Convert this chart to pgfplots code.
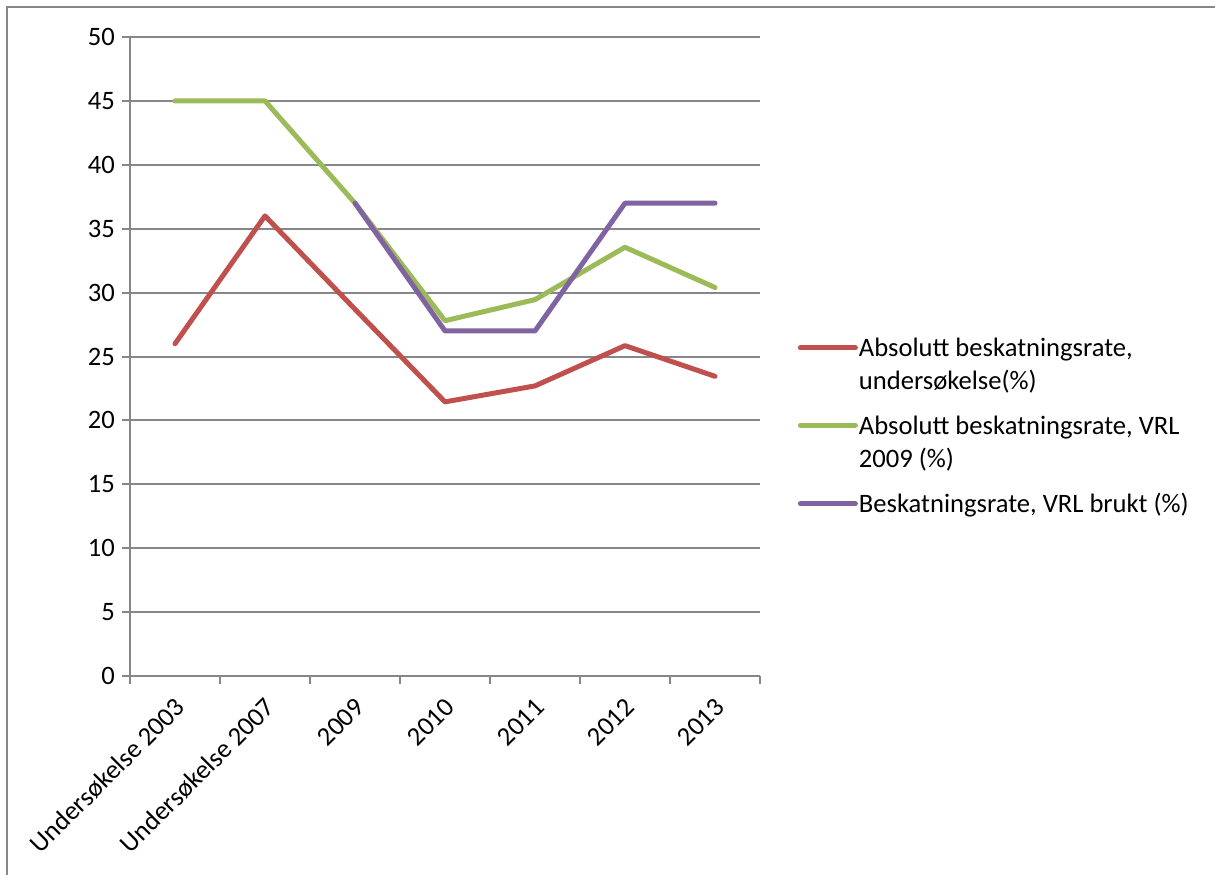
\documentclass[border=0pt]{standalone}
\usepackage{fontspec}
\setmainfont{Carlito}
\usepackage{pgfplots}
\pgfplotsset{compat=1.18}

\definecolor{seriesred}{HTML}{C0504D}
\definecolor{seriesgreen}{HTML}{9BBB59}
\definecolor{seriespurple}{HTML}{8064A2}
\definecolor{gridgray}{HTML}{878787}

% two-line legend text, aligned on its first line
\newcommand{\twolines}[2]{\vtop{\baselineskip=16.5pt\hbox{#1}\hbox{#2}}}

\begin{document}
\begin{tikzpicture}[x=1pt,y=1pt]
\useasboundingbox (0,0) rectangle (607.5,437);
% chart frame
\draw[line width=1pt, gridgray] (3.5,-5) -- (3.5,433.5) -- (612,433.5);
\begin{axis}[
  at={(65pt,99pt)}, anchor=south west,
  scale only axis, width=315pt, height=319.5pt,
  xmin=-0.5, xmax=6.5, ymin=0, ymax=50,
  ytick={0,5,...,50},
  xtick={0,...,6},
  xticklabels={Undersøkelse 2003, Undersøkelse 2007, 2009, 2010, 2011, 2012, 2013},
  minor xtick={-0.5,0.5,...,6.5},
  every major x tick/.append style={draw=none},
  axis x line*=bottom, axis y line*=left,
  axis line style={draw=gridgray, line width=1pt, -},
  ymajorgrids,
  major grid style={gridgray, line width=1pt},
  tick style={gridgray, line width=1pt},
  major tick length=4pt, minor tick length=4pt,
  tick align=outside,
  /pgf/number format/assume math mode=true,
  tick label style={font=\fontsize{13.3}{15}\selectfont, text=black},
  xticklabel style={xshift=5pt, yshift=-7pt, rotate=45, anchor=east},
  legend style={draw=none, fill=none, at={(1.05,0.5415)}, anchor=north west,
    font=\fontsize{13.3}{16.5}\selectfont,
    cells={anchor=base west}, row sep=24pt, column sep=-1.5pt},
  legend image code/.code={\draw[#1] (0pt,4.5pt) -- (27.5pt,4.5pt);},
  every axis plot/.append style={line width=2.5pt, line cap=round, line join=round},
]
\addplot[seriesred] coordinates {
  (0,26.0) (1,36.0) (2,28.7) (3,21.45) (4,22.7) (5,25.85) (6,23.45)};
\addlegendentry{\twolines{Absolutt beskatningsrate,}{undersøkelse(\%)}}
\addplot[seriesgreen] coordinates {
  (0,45.0) (1,45.0) (2,37.0) (3,27.8) (4,29.45) (5,33.55) (6,30.4)};
\addlegendentry{\twolines{Absolutt beskatningsrate, VRL}{2009 (\%)}}
\addplot[seriespurple] coordinates {
  (2,37.0) (3,27.0) (4,27.0) (5,37.0) (6,37.0)};
\addlegendentry{Beskatningsrate, VRL brukt (\%)}
\end{axis}
\end{tikzpicture}
\end{document}
